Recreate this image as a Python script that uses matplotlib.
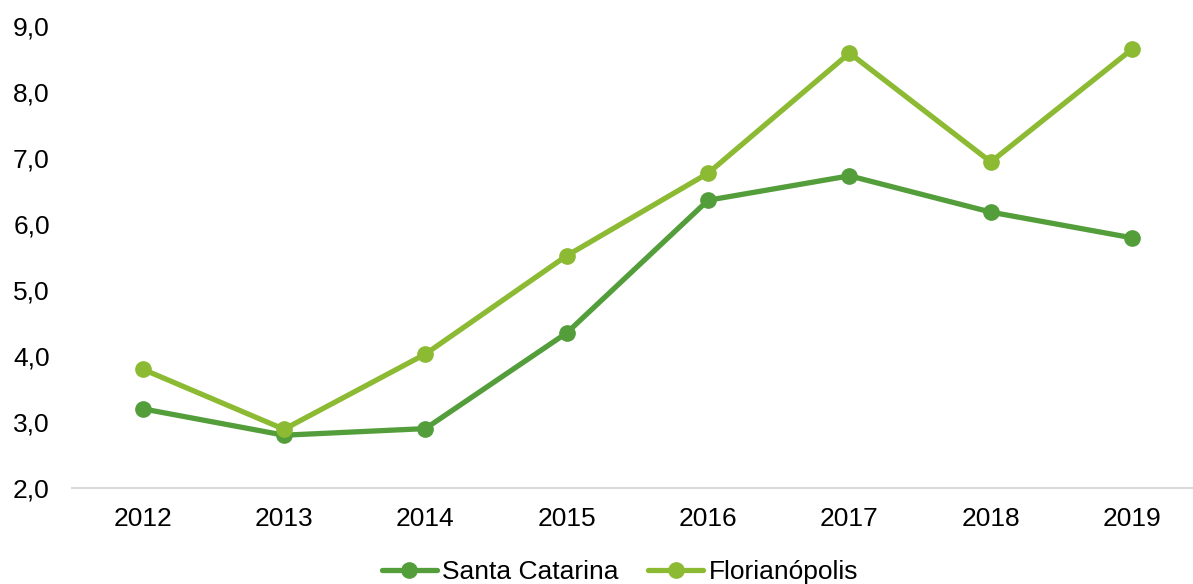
import matplotlib
matplotlib.use('Agg')
import matplotlib.pyplot as plt
from matplotlib.ticker import FuncFormatter

plt.rcParams['font.family'] = ['Liberation Sans', 'DejaVu Sans']

years = ['2012', '2013', '2014', '2015', '2016', '2017', '2018', '2019']
santa_catarina = [3.20, 2.80, 2.90, 4.35, 6.36, 6.73, 6.18, 5.79]
florianopolis = [3.80, 2.89, 4.03, 5.52, 6.77, 8.59, 6.94, 8.65]

c_sc = '#539E3B'
c_fl = '#8CBA33'

fig = plt.figure(figsize=(11.93, 5.84), dpi=100)
ax = fig.add_axes([72 / 1193, 96 / 584, 1121 / 1193, 462 / 584])

x = range(len(years))
ax.plot(x, santa_catarina, color=c_sc, lw=3.8, marker='o', ms=11,
        label='Santa Catarina', solid_capstyle='round')
ax.plot(x, florianopolis, color=c_fl, lw=3.8, marker='o', ms=11,
        label='Florianópolis', solid_capstyle='round')

ax.set_xlim(-0.5, 7.43)
ax.set_ylim(2, 9)
ax.set_xticks(list(x))
ax.set_xticklabels(years)
ax.set_yticks([2, 3, 4, 5, 6, 7, 8, 9])
ax.yaxis.set_major_formatter(FuncFormatter(lambda v, p: '{:.1f}'.format(v).replace('.', ',')))
ax.tick_params(axis='both', length=0, labelsize=19)
ax.tick_params(axis='y', pad=16)
ax.tick_params(axis='x', pad=14)

for s in ['top', 'right', 'left']:
    ax.spines[s].set_visible(False)
ax.spines['bottom'].set_color('#D9D9D9')
ax.spines['bottom'].set_linewidth(1.5)

ax.legend(loc='center', ncol=2, frameon=False, fontsize=19,
          handlelength=2.1, handletextpad=0.2, columnspacing=1.1,
          borderaxespad=0, borderpad=0,
          bbox_to_anchor=((620 - 72) / 1121, (584 - 572 - 96) / 462),
          bbox_transform=ax.transAxes)

fig.savefig('out.png', dpi=100)
